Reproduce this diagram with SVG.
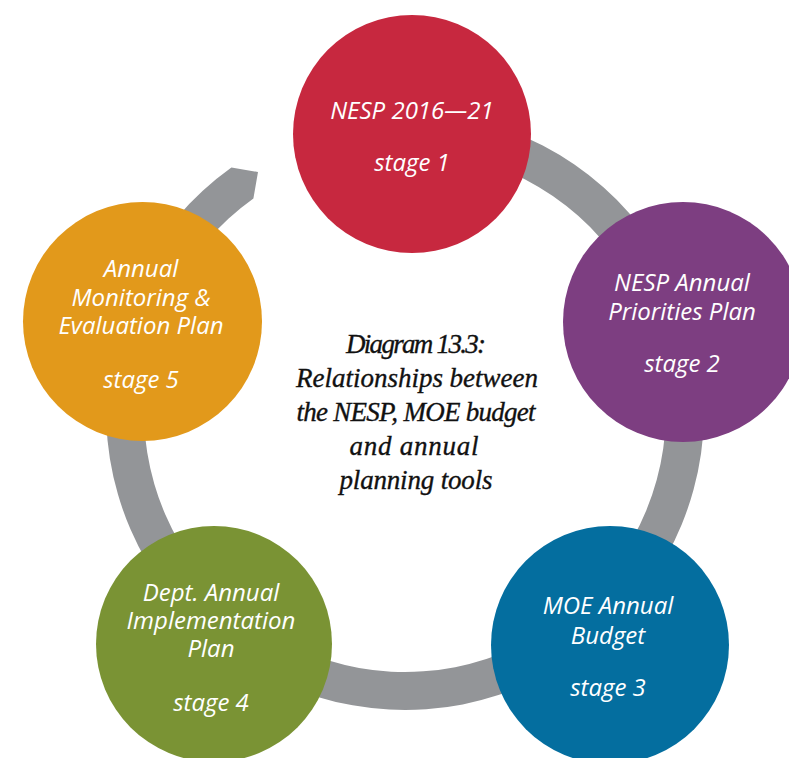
<svg xmlns="http://www.w3.org/2000/svg" width="789" height="758" viewBox="0 0 789 758">
  <style>
    .node-label { font-family: "Open Sans", "Liberation Sans", sans-serif; font-style: italic; font-size: 24px; fill: #ffffff; text-anchor: middle; }
    .title { font-family: "Liberation Serif", "DejaVu Serif", serif; font-style: italic; font-size: 27px; fill: #111111; stroke: #111111; stroke-width: 0.35px; text-anchor: middle; }
    .ring { fill: #939598; }
  </style>
  <rect width="789" height="758" fill="#ffffff"/>
  <g id="connectors">
    <path class="ring" d="M 327.6,122.2 A 299 299 0 1 1 231.4,167.6 L 258,172 L 253.4,198.5 A 261 261 0 1 0 337.4,158.9 Z"/>
  </g>
  <g id="title">
    <text class="title" x="416" y="353" textLength="140">Diagram 13.3:</text>
    <text class="title" x="417" y="387" textLength="242">Relationships between</text>
    <text class="title" x="416" y="421" textLength="239">the NESP, MOE budget</text>
    <text class="title" x="414" y="455" textLength="129">and annual</text>
    <text class="title" x="416" y="489" textLength="153">planning tools</text>
  </g>
  <g id="stage1">
    <circle cx="412" cy="134" r="119" fill="#C7283F"/>
    <text class="node-label" x="412" y="119">NESP 2016—21</text>
    <text class="node-label" x="412" y="171">stage 1</text>
  </g>
  <g id="stage2">
    <circle cx="683" cy="322" r="120" fill="#7D3E81"/>
    <text class="node-label" x="682" y="291">NESP Annual</text>
    <text class="node-label" x="682" y="320">Priorities Plan</text>
    <text class="node-label" x="682" y="372">stage 2</text>
  </g>
  <g id="stage3">
    <circle cx="610" cy="645" r="119" fill="#046E9F"/>
    <text class="node-label" x="608" y="614">MOE Annual</text>
    <text class="node-label" x="608" y="644">Budget</text>
    <text class="node-label" x="608" y="696">stage 3</text>
  </g>
  <g id="stage4">
    <circle cx="214" cy="644" r="118" fill="#7A9334"/>
    <text class="node-label" x="211" y="601">Dept. Annual</text>
    <text class="node-label" x="211" y="629">Implementation</text>
    <text class="node-label" x="211" y="657">Plan</text>
    <text class="node-label" x="211" y="711">stage 4</text>
  </g>
  <g id="stage5">
    <circle cx="142.5" cy="321.5" r="119.5" fill="#E2991B"/>
    <text class="node-label" x="141" y="277">Annual</text>
    <text class="node-label" x="141" y="306">Monitoring &amp;</text>
    <text class="node-label" x="141" y="334">Evaluation Plan</text>
    <text class="node-label" x="141" y="388">stage 5</text>
  </g>
</svg>
